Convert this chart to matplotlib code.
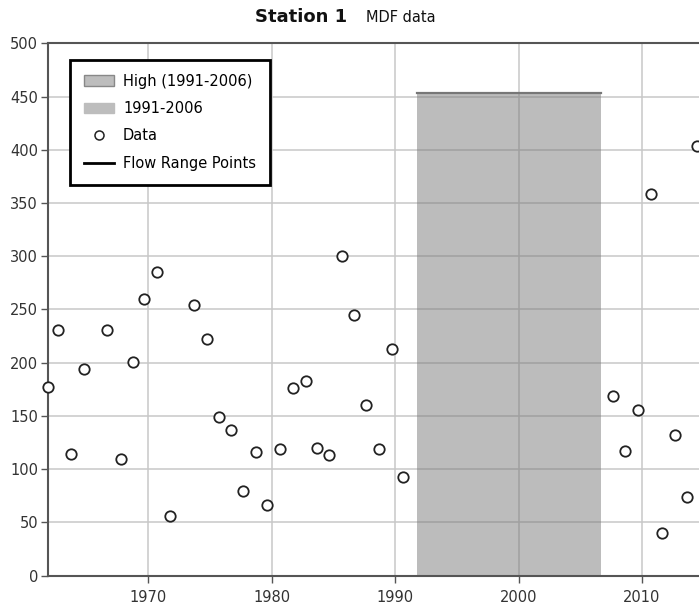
import matplotlib
matplotlib.use("Agg")
import matplotlib.pyplot as plt
from matplotlib.patches import Patch
from matplotlib.lines import Line2D

plt.rcParams['font.family'] = ['DejaVu Sans']

# Data (decimal year, flow)
years = [1961.85, 1962.71, 1963.74, 1964.79, 1966.68, 1967.76, 1968.78, 1969.68,
         1970.73, 1971.76, 1973.70, 1974.73, 1975.73, 1976.68, 1977.70, 1978.73,
         1979.64, 1980.70, 1981.70, 1982.76, 1983.65, 1984.67, 1985.72, 1986.67,
         1987.64, 1988.72, 1989.72, 1990.62,
         2007.63, 2008.63, 2009.68, 2010.74, 2011.60, 2012.66, 2013.68, 2014.47]
flows = [177, 231, 114, 194, 231, 110, 201, 260,
         285, 56, 254, 222, 149, 137, 80, 116,
         66, 119, 176, 183, 120, 113, 300, 245,
         160, 119, 213, 93,
         169, 117, 156, 358, 40, 132, 74, 404]

high_period = [1991.75, 2006.69]
high_value = 453

y_ticks = [0, 50, 100, 150, 200, 250, 300, 350, 400, 450, 500]
x_ticks = [1970, 1980, 1990, 2000, 2010]

fig = plt.figure(figsize=(6.99, 6.09), dpi=100)
ax = fig.add_axes([0.0682, 0.0547, 0.9318, 0.8742])

# shaded high-flow period
ax.fill_between(high_period, 0, high_value, color='#7a7a7a', alpha=0.5,
                linewidth=0, zorder=2)
ax.plot(high_period, [high_value, high_value], color='#777777', lw=1.6, zorder=3)

# data points
ax.plot(years, flows, linestyle='none', marker='o', ms=7.5, mfc='white',
        mec='#222222', mew=1.3, zorder=4, clip_on=False)

ax.set_xlim(1961.85, 2014.62)
ax.set_ylim(0, 500)
ax.set_xticks(x_ticks)
ax.set_yticks(y_ticks)
ax.grid(True, color='#c8c8c8', lw=1.1, zorder=0)
ax.set_axisbelow(True)

for side in ['left', 'bottom', 'top']:
    ax.spines[side].set_color('#555555')
    ax.spines[side].set_linewidth(1.5)
ax.spines['right'].set_visible(False)
ax.tick_params(axis='both', colors='#555555', labelcolor='#333333',
               labelsize=10.5, length=5, width=1)
ax.tick_params(axis='y', pad=2)
ax.tick_params(axis='x', pad=5)

handles = [
    Patch(facecolor='#bdbdbd', edgecolor='#888888', lw=1),
    Patch(facecolor='#bdbdbd', edgecolor='#bdbdbd', lw=1),
    Line2D([], [], linestyle='none', marker='o', ms=6.5, mfc='white',
           mec='#222222', mew=1.1),
    Line2D([], [], color='black', lw=2),
]
labels = ['High (1991-2006)', '1991-2006', 'Data', 'Flow Range Points']
leg = ax.legend(handles, labels, loc='upper left', bbox_to_anchor=(0.034, 0.969),
                fontsize=10.5, fancybox=False, framealpha=1, borderpad=0.95,
                labelspacing=0.85, handlelength=2.1, handletextpad=0.6,
                borderaxespad=0)
leg.get_frame().set_edgecolor('black')
leg.get_frame().set_linewidth(2)

fig.text(0.43, 0.972, 'Station 1', fontsize=13, fontweight='bold',
         ha='center', va='center', color='#111111')
fig.text(0.523, 0.972, 'MDF data', fontsize=10.5, ha='left', va='center',
         color='#111111')

fig.savefig('out.png', dpi=100)
